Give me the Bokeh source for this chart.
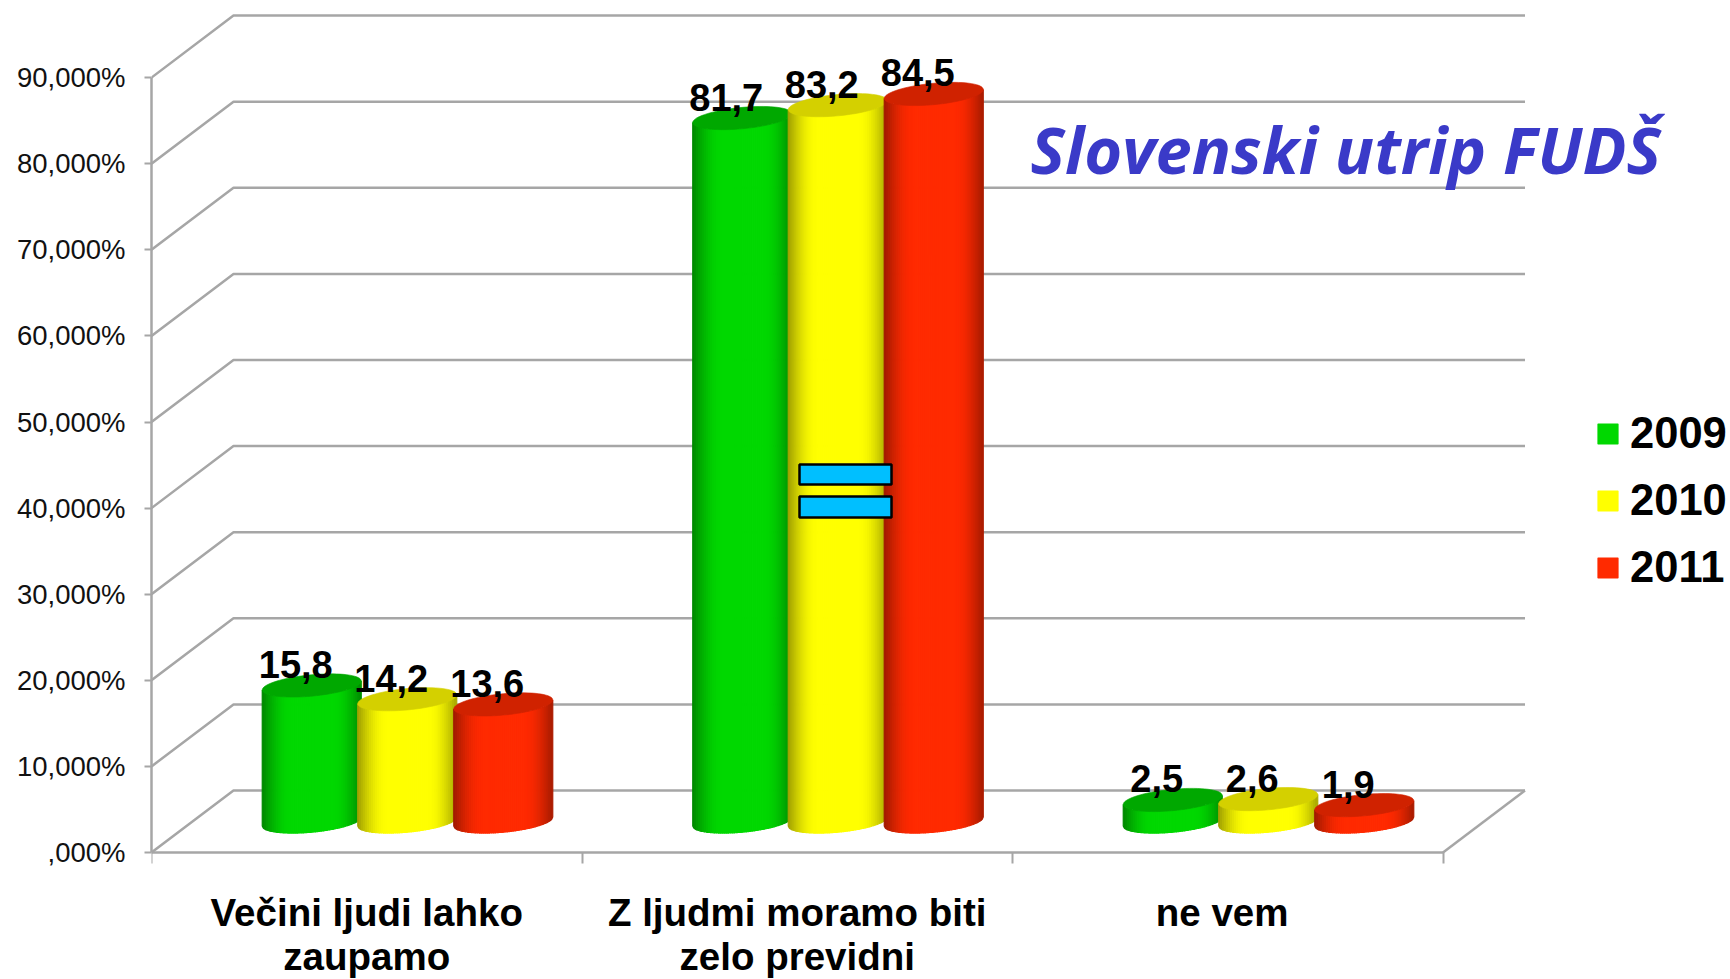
import math
from bokeh.plotting import figure
from bokeh.models import FixedTicker, LinearAxis, Legend, LegendItem, Range1d
from bokeh.core.properties import value
from bokeh.embed import file_html
from bokeh.resources import INLINE

categories = ["Večini ljudi lahko\nzaupamo", "Z ljudmi moramo biti\nzelo previdni", "ne vem"]
years = ["2009", "2010", "2011"]
values_2009 = [15.8, 81.7, 2.5]
values_2010 = [14.2, 83.2, 2.6]
values_2011 = [13.6, 84.5, 1.9]
series_values = [values_2009, values_2010, values_2011]
y_ticks = [0, 10, 20, 30, 40, 50, 60, 70, 80, 90]
y_labels = [",000%", "10,000%", "20,000%", "30,000%", "40,000%", "50,000%", "60,000%", "70,000%", "80,000%", "90,000%"]
title_text = "Slovenski utrip FUDŠ"

# px scale of the reference
PX_CAT = 430.5
PX_VAL = 8.61
W, H = 1730, 979
LEFT = 151
ZERO_Y = 852              # page y of value 0
frame_w = W - LEFT
DX = 82 / PX_CAT          # depth of the 3D box
DY = 62 / PX_VAL

def X(page_px):
    return (page_px - 151) / PX_CAT
def Y(page_py):
    return (ZERO_Y - page_py) / PX_VAL

p = figure(width=W, height=H, output_backend="svg", toolbar_location=None,
           x_range=Range1d(0, frame_w / PX_CAT), y_range=Range1d(Y(H), Y(0)),
           min_border_left=LEFT, min_border_bottom=0, min_border_top=0, min_border_right=0,
           outline_line_color=None, x_axis_type=None, y_axis_type=None)
p.xgrid.visible = False
p.ygrid.visible = False
GRAY = "#a6a6a6"

# axes
ya = LinearAxis(ticker=FixedTicker(ticks=y_ticks, minor_ticks=[]),
                major_label_overrides={t: l for t, l in zip(y_ticks, y_labels)},
                bounds=(0, 90), axis_line_color=GRAY, axis_line_width=2.5,
                major_tick_line_color=GRAY, major_tick_line_width=2, major_tick_out=7, major_tick_in=0,
                major_label_standoff=19, major_label_text_font="Liberation Sans",
                major_label_text_font_size="27.5px", major_label_text_color="#111111")
p.add_layout(ya, "left")
cat_ticks = list(range(len(categories) + 1))
xa = LinearAxis(ticker=FixedTicker(ticks=cat_ticks, minor_ticks=[]),
                major_label_overrides={t: "" for t in cat_ticks},
                bounds=(0, 3), axis_line_color=GRAY, axis_line_width=2.5,
                major_tick_line_color=GRAY, major_tick_line_width=2, major_tick_out=11, major_tick_in=0,
                major_label_standoff=0, major_label_text_font_size="1px", fixed_location=0)
p.add_layout(xa, "below")
centers = [0.5, 1.5, 2.487]
for line_no, standoff in ((0, 38), (1, 82)):
    ticks = [t for t, c in zip(centers, categories) if len(c.split("\n")) > line_no]
    names = [c.split("\n")[line_no] for c in categories if len(c.split("\n")) > line_no]
    xb = LinearAxis(ticker=FixedTicker(ticks=ticks, minor_ticks=[]),
                    major_label_overrides={t: c for t, c in zip(ticks, names)},
                    axis_line_color=None, major_tick_line_color=None, major_tick_out=0, major_tick_in=0,
                    major_label_standoff=standoff, major_label_text_font="Liberation Sans",
                    major_label_text_font_style="bold", major_label_text_font_size="38.5px",
                    major_label_text_color="#000000", fixed_location=0)
    p.add_layout(xb, "below")

# walls and floor
wx, wy = [], []
for v in y_ticks:
    wx.append([0, DX, 3 + DX]); wy.append([v, v + DY, v + DY])
wx.append([3, 3 + DX]); wy.append([0, DY])
p.multi_line(wx, wy, line_color=GRAY, line_width=2.5)

# cylinders
STYLE = [((0, 216, 0), (0, 168, 0)), ((255, 255, 0), (212, 208, 0)), ((255, 42, 0), (208, 34, 0))]
BAR_OFF = [-96 / PX_CAT, -0.5 / PX_CAT, 95.5 / PX_CAT]
RX, RY, SH = 49.5, 10.7, 4.5  # ellipse: px half width, half height, tilt
N = 50

def shade(u):
    if u < 0.3:
        return 0.62 + 0.38 * math.sin(u / 0.3 * math.pi / 2)
    if u > 0.72:
        return 0.66 + 0.34 * math.cos((u - 0.72) / 0.28 * math.pi / 2)
    return 1.0

def lower(d):      # px below the ellipse centre at d (-1..1)
    return RY * math.sqrt(max(0.0, 1 - d * d)) - SH * d

label_x, label_y, label_t = [], [], []
first_strip = {}
for gi in range(len(categories)):
    for si, vals in enumerate(series_values):
        v = vals[gi]
        cx = gi + 0.5 + DX / 2 + BAR_OFF[si]
        base = DY / 2
        top = v + DY / 2
        col, tcol = STYLE[si]
        xs, ys, cs = [], [], []
        for k in range(N):
            a, b = -1 + 2 * k / N, -1 + 2 * (k + 1) / N
            px = [a + (b - a) * j / 2 for j in range(3)]
            top_edge = [top - lower(d) / PX_VAL for d in px]
            bot_edge = [base - lower(d) / PX_VAL for d in px]
            xs.append([cx + d * RX / PX_CAT for d in px] + [cx + d * RX / PX_CAT for d in reversed(px)])
            ys.append(top_edge + list(reversed(bot_edge)))
            s = shade((k + 0.5) / N)
            cs.append("#%02x%02x%02x" % tuple(int(c * s) for c in col))
        r = p.patches(xs, ys, fill_color=cs, line_color=cs, line_width=1.2)
        first_strip.setdefault(si, r)
        ex, ey = [], []
        for j in range(73):
            t = 2 * math.pi * j / 72
            ex.append(cx + RX * math.cos(t) / PX_CAT)
            ey.append(top + (RY * math.sin(t) + SH * math.cos(t)) / PX_VAL)
        p.patch(ex, ey, fill_color="#%02x%02x%02x" % tcol, line_color="#%02x%02x%02x" % tcol, line_width=0.6)
        label_x.append(cx); label_y.append(top); label_t.append(("%.1f" % v).replace(".", ","))

p.text(label_x, label_y, text=label_t, x_offset=-16, y_offset=-21, text_align="center",
       text_baseline="middle", text_font=value("Liberation Sans"), text_font_style="bold",
       text_font_size="38px", text_color="#000000")

# equals sign marker
p.quad(left=[X(799), X(799)], right=[X(891), X(891)], top=[Y(464), Y(496)], bottom=[Y(484), Y(517)],
       fill_color="#00bfff", line_color="#000000", line_width=2.5)

# title
p.text([X(1030)], [Y(148)], text=[title_text], text_align="left", text_baseline="alphabetic",
       text_font=value("Open Sans"), text_font_style="bold italic", text_font_size="65px",
       text_color="#3a3ac8")

# legend
items = [LegendItem(label=y_name, renderers=[first_strip[i]], index=N // 2) for i, y_name in enumerate(years)]
leg = Legend(items=items, location=(1595 - LEFT, H - 592), orientation="vertical",
             glyph_width=25, glyph_height=25, label_standoff=10, spacing=18, padding=0, margin=0,
             border_line_color=None, background_fill_alpha=0,
             label_text_font="Liberation Sans", label_text_font_style="bold", label_text_font_size="43.5px",
             label_text_color="#000000", label_height=23)
p.add_layout(leg, "center")

open("out.html", "w").write(file_html(p, INLINE))
